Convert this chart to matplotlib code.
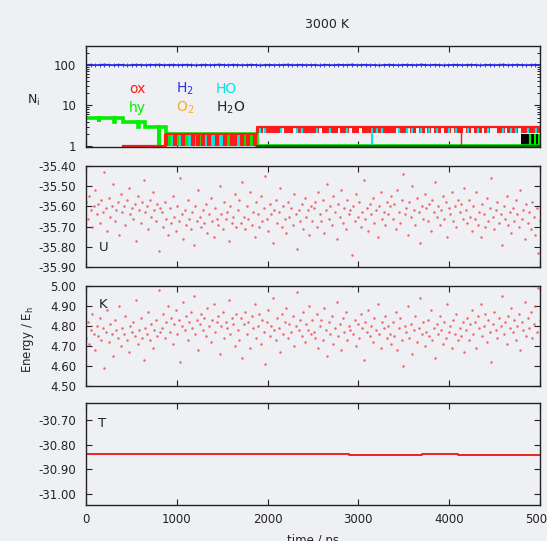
import numpy as np
import matplotlib
matplotlib.use("Agg")
import matplotlib.pyplot as plt
from matplotlib.ticker import FixedLocator, FixedFormatter, NullFormatter, LogLocator

# ---------------- data ----------------
title = "3000 K"
x_ticks = [0, 1000, 2000, 3000, 4000, 5000]

# H2 molecule count (blue, ~100)
H2 = [99, 100, 98, 99, 101, 99, 98, 100, 99, 97, 99, 100, 99, 98, 100, 99, 101, 98, 99, 100,
      98, 99, 100, 99, 97, 99, 100, 98, 99, 101, 99, 98, 100, 99, 98, 99, 100, 99, 97, 99,
      100, 98, 99, 99, 101, 98, 99, 100, 98, 99, 99, 97, 100, 99, 98, 100, 99, 99, 101, 98,
      99, 100, 98, 99, 97, 99, 100, 99, 98, 99, 100, 99, 98, 101, 99, 98, 100, 99, 97, 99,
      99, 100, 98, 99, 100, 99, 97, 99, 100, 98, 99, 101, 98, 99, 100, 99, 98, 99, 100, 99]

# hy (green) step counts
hy_t = [0, 138, 146, 308, 316, 407, 573, 581, 654, 801, 807, 879, 1882, 5000]
hy_n = [5, 4, 5, 4, 5, 4, 3, 4, 3, 1, 3, 2, 1, 1]
# ox (red) step counts
ox_t = [407, 879, 1882, 5000]
ox_n = [1, 2, 3, 3]

# fast switching 1 <-> 2 between 879 and 1882 ps
band1_ox = [879, 978, 1063, 1174, 1236, 1292, 1358, 1439, 1531, 1605, 1642, 1716, 1789, 1863]
band1_hy = [916, 1004, 1100, 1262, 1568, 1752, 1826]
band1_HO = [942, 1034, 1137, 1200, 1321, 1402, 1468, 1498, 1679]

# fast switching 2 <-> 3 after 1882 ps
ox_seg_start = [1882, 1975, 2180, 2310, 2595, 2800, 2930, 3040, 3445, 3572, 3664, 3756, 3830,
                3942, 4052, 4180, 4272, 4384, 4530, 4642, 4790]
ox_seg_end = [1950, 2150, 2280, 2570, 2770, 2900, 3010, 3415, 3545, 3638, 3730, 3804, 3915,
              4025, 4155, 4245, 4357, 4450, 4615, 4762, 5000]
band2_HO = [1911, 1973, 2147, 2323, 2379, 2545, 2692, 2876, 3208, 3263, 3448, 3540, 3595, 3687,
            3779, 3871, 4000, 4074, 4203, 4313, 4424, 4590, 4682, 4737, 4866, 4960]
HO_full = [3153]
ox_full = [4129]
H2O_start, H2O_end = 4793, 5000
block_hy = [4885, 4940, 4990]

# potential energy U (Eh)
U = [-35.58, -35.66, -35.55, -35.62, -35.70, -35.60, -35.52, -35.64, -35.59, -35.68,
     -35.57, -35.63, -35.43, -35.61, -35.72, -35.56, -35.65, -35.60, -35.49, -35.67,
     -35.62, -35.58, -35.74, -35.54, -35.63, -35.60, -35.69, -35.57, -35.51, -35.64,
     -35.61, -35.66, -35.59, -35.77, -35.55, -35.62, -35.68, -35.58, -35.47, -35.63,
     -35.60, -35.71, -35.57, -35.65, -35.53, -35.62, -35.67, -35.59, -35.82, -35.61,
     -35.63, -35.70, -35.58, -35.66, -35.74, -35.61, -35.68, -35.55, -35.65, -35.72,
     -35.60, -35.67, -35.46, -35.64, -35.76, -35.62, -35.69, -35.57, -35.66, -35.71,
     -35.63, -35.79, -35.60, -35.67, -35.52, -35.65, -35.70, -35.62, -35.68, -35.59,
     -35.73, -35.64, -35.56, -35.67, -35.75, -35.61, -35.66, -35.69, -35.50, -35.64,
     -35.71, -35.58, -35.66, -35.63, -35.77, -35.60, -35.68, -35.65, -35.54, -35.70,
     -35.62, -35.57, -35.68, -35.48, -35.65, -35.71, -35.60, -35.66, -35.53, -35.69,
     -35.63, -35.75, -35.58, -35.64, -35.70, -35.55, -35.67, -35.61, -35.45, -35.66,
     -35.72, -35.59, -35.64, -35.78, -35.62, -35.57, -35.68, -35.63, -35.51, -35.70,
     -35.60, -35.66, -35.73, -35.58, -35.65, -35.61, -35.69, -35.54, -35.64, -35.81,
     -35.62, -35.67, -35.59, -35.71, -35.56, -35.65, -35.62, -35.74, -35.60, -35.67,
     -35.61, -35.58, -35.70, -35.53, -35.64, -35.67, -35.57, -35.73, -35.62, -35.49,
     -35.66, -35.60, -35.69, -35.55, -35.63, -35.76, -35.59, -35.65, -35.52, -35.68,
     -35.61, -35.71, -35.57, -35.64, -35.62, -35.84, -35.60, -35.67, -35.54, -35.65,
     -35.58, -35.70, -35.63, -35.47, -35.66, -35.61, -35.72, -35.59, -35.64, -35.56,
     -35.68, -35.62, -35.75, -35.60, -35.53, -35.66, -35.63, -35.69, -35.58, -35.64,
     -35.60, -35.55, -35.66, -35.59, -35.71, -35.52, -35.63, -35.68, -35.57, -35.44,
     -35.64, -35.61, -35.74, -35.58, -35.65, -35.50, -35.62, -35.69, -35.56, -35.63,
     -35.78, -35.60, -35.66, -35.54, -35.61, -35.67, -35.59, -35.72, -35.57, -35.63,
     -35.48, -35.65, -35.60, -35.69, -35.62, -35.55, -35.66, -35.58, -35.75, -35.61,
     -35.64, -35.53, -35.67, -35.60, -35.70, -35.57, -35.63, -35.59, -35.66, -35.51,
     -35.62, -35.68, -35.57, -35.65, -35.72, -35.60, -35.66, -35.53, -35.69, -35.63,
     -35.75, -35.59, -35.64, -35.70, -35.56, -35.67, -35.61, -35.46, -35.65, -35.71,
     -35.62, -35.58, -35.68, -35.64, -35.79, -35.60, -35.66, -35.55, -35.69, -35.63,
     -35.73, -35.61, -35.67, -35.57, -35.64, -35.70, -35.52, -35.66, -35.62, -35.76,
     -35.59, -35.68, -35.63, -35.71, -35.58, -35.65, -35.74, -35.61, -35.83, -35.67]

# kinetic energy K (Eh)
K = [4.74, 4.82, 4.71, 4.78, 4.86, 4.76, 4.68, 4.80, 4.75, 4.84,
     4.73, 4.79, 4.59, 4.77, 4.88, 4.72, 4.81, 4.76, 4.65, 4.83,
     4.78, 4.74, 4.90, 4.70, 4.79, 4.76, 4.85, 4.73, 4.67, 4.80,
     4.77, 4.82, 4.75, 4.93, 4.71, 4.78, 4.84, 4.74, 4.63, 4.79,
     4.76, 4.87, 4.73, 4.81, 4.69, 4.78, 4.83, 4.75, 4.98, 4.77,
     4.79, 4.86, 4.74, 4.82, 4.90, 4.77, 4.84, 4.71, 4.81, 4.88,
     4.76, 4.83, 4.62, 4.80, 4.92, 4.78, 4.85, 4.73, 4.82, 4.87,
     4.79, 4.95, 4.76, 4.83, 4.68, 4.81, 4.86, 4.78, 4.84, 4.75,
     4.89, 4.80, 4.72, 4.83, 4.91, 4.77, 4.82, 4.85, 4.66, 4.80,
     4.87, 4.74, 4.82, 4.79, 4.93, 4.76, 4.84, 4.81, 4.70, 4.86,
     4.78, 4.73, 4.84, 4.64, 4.81, 4.87, 4.76, 4.82, 4.69, 4.85,
     4.79, 4.91, 4.74, 4.80, 4.86, 4.71, 4.83, 4.77, 4.61, 4.82,
     4.88, 4.75, 4.80, 4.94, 4.78, 4.73, 4.84, 4.79, 4.67, 4.86,
     4.76, 4.82, 4.89, 4.74, 4.81, 4.77, 4.85, 4.70, 4.80, 4.97,
     4.78, 4.83, 4.75, 4.87, 4.72, 4.81, 4.78, 4.90, 4.76, 4.83,
     4.77, 4.74, 4.86, 4.69, 4.80, 4.83, 4.73, 4.89, 4.78, 4.65,
     4.82, 4.76, 4.85, 4.71, 4.79, 4.92, 4.75, 4.81, 4.68, 4.84,
     4.77, 4.87, 4.73, 4.80, 4.78, 5.00, 4.76, 4.83, 4.70, 4.81,
     4.74, 4.86, 4.79, 4.63, 4.82, 4.77, 4.88, 4.75, 4.80, 4.72,
     4.84, 4.78, 4.91, 4.76, 4.69, 4.82, 4.79, 4.85, 4.74, 4.80,
     4.76, 4.71, 4.82, 4.75, 4.87, 4.68, 4.79, 4.84, 4.73, 4.60,
     4.80, 4.77, 4.90, 4.74, 4.81, 4.66, 4.78, 4.85, 4.72, 4.79,
     4.94, 4.76, 4.82, 4.70, 4.77, 4.83, 4.75, 4.88, 4.73, 4.79,
     4.64, 4.81, 4.76, 4.85, 4.78, 4.71, 4.82, 4.74, 4.91, 4.77,
     4.80, 4.69, 4.83, 4.76, 4.86, 4.73, 4.79, 4.75, 4.82, 4.67,
     4.78, 4.84, 4.73, 4.81, 4.88, 4.76, 4.82, 4.69, 4.85, 4.79,
     4.91, 4.75, 4.80, 4.86, 4.72, 4.83, 4.77, 4.62, 4.81, 4.87,
     4.78, 4.74, 4.84, 4.80, 4.95, 4.76, 4.82, 4.71, 4.85, 4.79,
     4.89, 4.77, 4.83, 4.73, 4.80, 4.86, 4.68, 4.82, 4.78, 4.92,
     4.75, 4.84, 4.79, 4.87, 4.74, 4.81, 4.90, 4.77, 4.99, 4.83]

# total energy T (Eh), step values
T_t = [0, 2900, 3700, 4100, 5000]
T_v = [-30.840, -30.843, -30.840, -30.843, -30.843]

U_ticks = [-35.90, -35.80, -35.70, -35.60, -35.50, -35.40]
K_ticks = [4.50, 4.60, 4.70, 4.80, 4.90, 5.00]
T_ticks = [-31.00, -30.90, -30.80, -30.70]

# ---------------- style ----------------
plt.rcParams.update({
    "font.family": ["DejaVu Sans"],
    "font.size": 8.5,
    "mathtext.default": "regular",
})
BG = "#eef0f3"
RED = "#ff1a1a"
GREEN = "#00ee00"
CYAN = "#00e8e8"
BLUE = "#2a2ae6"
ORANGE = "#f2ae2e"
DOT = "#ee4646"

fig = plt.figure(figsize=(5.47, 5.41), dpi=100, facecolor=BG)
W_PX, H_PX = 547, 541
L, W = 86 / W_PX, 454 / W_PX


def box(top, bottom):
    return [L, 1 - bottom / H_PX, W, (bottom - top) / H_PX]


ax0 = fig.add_axes(box(46, 147.3))
axU = fig.add_axes(box(166, 267))
axK = fig.add_axes(box(286, 386))
axT = fig.add_axes(box(402.7, 505))

for ax in (ax0, axU, axK, axT):
    ax.set_facecolor("none")
    ax.set_xlim(0, 5000)
    ax.xaxis.set_major_locator(FixedLocator(x_ticks))
    ax.tick_params(which="major", direction="in", top=True, right=True,
                   length=4, width=0.8, pad=7, labelsize=8.5, colors="#222222")
    ax.tick_params(axis="x", pad=6)
    for s in ax.spines.values():
        s.set_linewidth(1.0)
        s.set_color("#222222")
    if ax is not axT:
        ax.xaxis.set_major_formatter(NullFormatter())

# ---- species panel ----
t_H2 = np.linspace(0, 5000, len(H2))
ax0.set_yscale("log")
ax0.set_ylim(0.93, 290)
ax0.yaxis.set_major_locator(FixedLocator([1, 10, 100]))
ax0.yaxis.set_major_formatter(FixedFormatter(["1", "10", "100"]))
ax0.yaxis.set_minor_locator(LogLocator(base=10, subs=np.arange(2, 10)))
ax0.yaxis.set_minor_formatter(NullFormatter())
ax0.tick_params(which="minor", direction="in", left=True, right=True, length=2, width=0.6)

ax0.plot(t_H2, H2, color=BLUE, lw=1.3, marker="+", ms=2.5, mew=0.6)
ax0.plot(hy_t, hy_n, drawstyle="steps-post", color=GREEN, lw=2.6, solid_joinstyle="miter")
ax0.vlines(band1_HO, 1, 2, color=CYAN, lw=3.0)
ax0.vlines(band1_hy, 1, 2, color=GREEN, lw=3.0)
ax0.vlines(band1_ox, 1, 2, color=RED, lw=3.0)
ax0.broken_barh([(s, e - s) for s, e in zip(ox_seg_start, ox_seg_end)], (2.1, 0.9),
                facecolors=RED, edgecolor="none")
ax0.vlines(band2_HO, 2.1, 3, color=CYAN, lw=1.6)
ax0.vlines(HO_full, 1, 3, color=CYAN, lw=1.4)
ax0.vlines(ox_full, 1, 3, color=RED, lw=1.0)
ax0.broken_barh([(H2O_start, H2O_end - H2O_start)], (1, 1), facecolors="black", edgecolor="none")
ax0.vlines(block_hy, 1, 2, color=GREEN, lw=1.6)
ax0.plot(ox_t, ox_n, drawstyle="steps-post", color=RED, lw=1.6)
ax0.plot([hy_t[-2], hy_t[-1]], [hy_n[-2], hy_n[-1]], color="#107010", lw=1.6)

# legend-like labels
ax0.text(0.0947, 0.576, "ox", color=RED, fontsize=10, transform=ax0.transAxes, va="center")
ax0.text(0.198, 0.576, "H$_2$", color=BLUE, fontsize=10, transform=ax0.transAxes, va="center")
ax0.text(0.286, 0.576, "HO", color=CYAN, fontsize=10, transform=ax0.transAxes, va="center")
ax0.text(0.0947, 0.387, "hy", color=GREEN, fontsize=10, transform=ax0.transAxes, va="center")
ax0.text(0.198, 0.387, "O$_2$", color=ORANGE, fontsize=10, transform=ax0.transAxes, va="center")
ax0.text(0.286, 0.387, "H$_2$O", color="#222222", fontsize=10, transform=ax0.transAxes, va="center")

# ---- U panel ----
t_s = np.linspace(0, 5000, len(U))
axU.plot(t_s, U, ls="none", marker="o", ms=1.8, mew=0, color=DOT, alpha=0.8)
axU.set_ylim(-35.90, -35.40)
axU.yaxis.set_major_locator(FixedLocator(U_ticks))
axU.yaxis.set_major_formatter(FixedFormatter([f"{v:.2f}" for v in U_ticks]))
axU.text(0.0385, 0.198, "U", fontsize=9.5, color="#222222", transform=axU.transAxes,
         ha="center", va="center")

# ---- K panel ----
axK.plot(t_s, K, ls="none", marker="o", ms=1.8, mew=0, color=DOT, alpha=0.8)
axK.set_ylim(4.50, 5.00)
axK.yaxis.set_major_locator(FixedLocator(K_ticks))
axK.yaxis.set_major_formatter(FixedFormatter([f"{v:.2f}" for v in K_ticks]))
axK.text(0.0385, 0.81, "K", fontsize=9.5, color="#222222", transform=axK.transAxes,
         ha="center", va="center")

# ---- T panel ----
axT.plot(T_t, T_v, drawstyle="steps-post", color="#e82424", lw=1.4)
axT.set_ylim(-31.045, -30.63)
axT.yaxis.set_major_locator(FixedLocator(T_ticks))
axT.yaxis.set_major_formatter(FixedFormatter([f"{v:.2f}" for v in T_ticks]))
axT.xaxis.set_major_formatter(FixedFormatter([str(v) for v in x_ticks]))
axT.text(0.0346, 0.80, "T", fontsize=9.5, color="#222222", transform=axT.transAxes,
         ha="center", va="center")

# ---- figure texts ----
fig.text(327 / W_PX, 1 - 25 / H_PX, title, ha="center", va="center", fontsize=9, color="#222222")
fig.text(34 / W_PX, 1 - 100 / H_PX, "N$_i$", ha="center", va="center", fontsize=9,
         color="#222222")
fig.text(28 / W_PX, 1 - 340 / H_PX, "Energy / E$_h$", ha="center", va="center", rotation=90,
         fontsize=8.5, color="#222222")
fig.text(313 / W_PX, 1 - 534 / H_PX, "time / ps", ha="center", va="top", fontsize=8.5,
         color="#222222")

fig.savefig("out.png", dpi=100, facecolor=BG)
